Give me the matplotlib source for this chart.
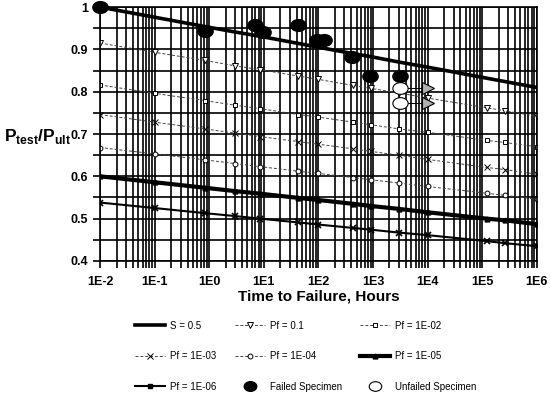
import numpy as np
import matplotlib
matplotlib.use("Agg")
import matplotlib.pyplot as plt
from matplotlib.lines import Line2D
from matplotlib.path import Path
import matplotlib.transforms as mtransforms
from matplotlib.ticker import LogLocator, FixedLocator, FixedFormatter, NullFormatter

plt.rcParams['font.family'] = ['Liberation Sans', 'DejaVu Sans']
plt.rcParams['mathtext.fontset'] = 'custom'
plt.rcParams['mathtext.bf'] = 'Liberation Sans:bold'
plt.rcParams['mathtext.rm'] = 'Liberation Sans'

# time to failure (hours) where the curves were evaluated
t = [1e-2, 1e-1, 0.83, 3, 8.5, 43, 100, 430, 900, 3000, 1e4, 1.2e5, 2.6e5, 1e6]

s05 = [1.000, 0.976, 0.954, 0.941, 0.931, 0.914, 0.905, 0.890, 0.883, 0.870, 0.858, 0.832, 0.824, 0.810]
pf_1e1 = [0.915, 0.893, 0.874, 0.861, 0.852, 0.837, 0.829, 0.815, 0.808, 0.797, 0.785, 0.762, 0.755, 0.742]
pf_1e2 = [0.816, 0.796, 0.779, 0.768, 0.760, 0.746, 0.740, 0.728, 0.722, 0.712, 0.704, 0.685, 0.680, 0.670]
pf_1e3 = [0.746, 0.728, 0.712, 0.702, 0.694, 0.682, 0.676, 0.665, 0.659, 0.650, 0.640, 0.621, 0.616, 0.605]
pf_1e4 = [0.668, 0.653, 0.639, 0.630, 0.623, 0.612, 0.607, 0.597, 0.592, 0.584, 0.576, 0.560, 0.555, 0.546]
pf_1e5 = [0.600, 0.586, 0.573, 0.565, 0.559, 0.549, 0.544, 0.535, 0.530, 0.523, 0.515, 0.500, 0.496, 0.487]
pf_1e6 = [0.538, 0.525, 0.513, 0.506, 0.500, 0.491, 0.486, 0.478, 0.474, 0.467, 0.461, 0.447, 0.442, 0.435]

fail_t = [0.01, 0.83, 6.9, 9.8, 43, 95, 125, 420, 890, 3100]
fail_p = [1.0, 0.943, 0.958, 0.942, 0.958, 0.922, 0.922, 0.882, 0.838, 0.838]
unfail_t = [3100, 3100]
unfail_p = [0.809, 0.774]
runout_t = [1e4, 1e4]

xticks = [1e-2, 1e-1, 1e0, 1e1, 1e2, 1e3, 1e4, 1e5, 1e6]
xlabels = ['1E-2', '1E-1', '1E0', '1E1', '1E2', '1E3', '1E4', '1E5', '1E6']
yticks = [0.4, 0.5, 0.6, 0.7, 0.8, 0.9, 1.0]
ylabels = ['0.4', '0.5', '0.6', '0.7', '0.8', '0.9', '1']

ell = Path.unit_circle().transformed(mtransforms.Affine2D().scale(1.3, 1.0))

fig = plt.figure(figsize=(5.5, 3.93), dpi=100)
ax = fig.add_axes([0.182, 0.336, 0.794, 0.646])
ax.set_xscale('log')
ax.set_xlim(1e-2, 1e6)
ax.set_ylim(0.4, 1.0)

ax.xaxis.set_major_locator(FixedLocator(xticks))
ax.xaxis.set_major_formatter(FixedFormatter(xlabels))
ax.xaxis.set_minor_locator(LogLocator(base=10, subs=np.arange(2, 10), numticks=20))
ax.xaxis.set_minor_formatter(NullFormatter())
ax.yaxis.set_major_locator(FixedLocator(yticks))
ax.yaxis.set_major_formatter(FixedFormatter(ylabels))
ax.yaxis.set_minor_locator(FixedLocator([0.45, 0.55, 0.65, 0.75, 0.85, 0.95]))
ax.grid(True, which='both', color='black', lw=1.2)
ax.set_axisbelow(True)
for sp in ax.spines.values():
    sp.set_linewidth(1.2)
ax.tick_params(which='both', direction='out', length=5, width=1.2)
for lab in ax.get_xticklabels() + ax.get_yticklabels():
    lab.set_fontweight('bold')
    lab.set_fontsize(9)
ax.tick_params(axis='x', pad=6)

dash = dict(color='#444444', lw=0.7, dashes=(3, 2), ms=4.5, mec='black', mfc='white', mew=0.7)
ax.plot(t, s05, color='black', lw=2.6)
ax.plot(t, pf_1e1, marker='v', **dash)
ax.plot(t, pf_1e2, marker='s', **dict(dash, ms=3.5))
ax.plot(t, pf_1e3, marker='x', **dash)
ax.plot(t, pf_1e4, marker='o', **dict(dash, ms=3.5))
ax.plot(t, pf_1e5, color='black', lw=3, marker='^', ms=3.5)
ax.plot(t, pf_1e6, color='black', lw=1.5, marker='x', ms=4, mew=1.2)

for i in range(len(unfail_t)):
    ax.plot([unfail_t[i], runout_t[i]], [unfail_p[i], unfail_p[i]], color='black', lw=0.7)
ax.plot(runout_t, unfail_p, ls='none', marker='>', ms=9, mfc='#b0b0b0', mec='black', mew=0.8)
ax.plot(fail_t, fail_p, ls='none', marker=ell, ms=11, mfc='black', mec='black', clip_on=False, zorder=5)
ax.plot(unfail_t, unfail_p, ls='none', marker=ell, ms=11, mfc='white', mec='black', mew=0.8, zorder=5)

ax.set_xlabel('Time to Failure, Hours', fontsize=11, fontweight='bold', labelpad=1)
fig.text(0.008, 0.652, r'$\mathbf{P}_{\mathbf{test}}\mathbf{/P}_{\mathbf{ult}}$', fontsize=12.5, va='center', ha='left')

h = [
    Line2D([], [], color='black', lw=2.6),
    Line2D([], [], marker='v', **dash),
    Line2D([], [], marker='s', **dict(dash, ms=3.5)),
    Line2D([], [], marker='x', **dash),
    Line2D([], [], marker='o', **dict(dash, ms=3.5)),
    Line2D([], [], color='black', lw=3, marker='^', ms=3.5),
    Line2D([], [], color='black', lw=1.5, marker='s', ms=3.5),
    Line2D([], [], ls='none', marker=ell, ms=9, mfc='black', mec='black'),
    Line2D([], [], ls='none', marker=ell, ms=9, mfc='white', mec='black', mew=0.8),
]
names = ['S = 0.5', 'Pf = 0.1', 'Pf = 1E-02', 'Pf = 1E-03', 'Pf = 1E-04', 'Pf = 1E-05',
         'Pf = 1E-06', 'Failed Specimen', 'Unfailed Specimen']
order = [0, 3, 6, 1, 4, 7, 2, 5, 8]
fig.legend([h[i] for i in order], [names[i] for i in order], loc='upper left',
           bbox_to_anchor=(0.245, 0.184), ncol=3, frameon=False, fontsize=7,
           handlelength=3.1, handletextpad=0.5, columnspacing=1.9, labelspacing=2.1,
           borderpad=0, borderaxespad=0)

fig.savefig('out.png', dpi=100)
